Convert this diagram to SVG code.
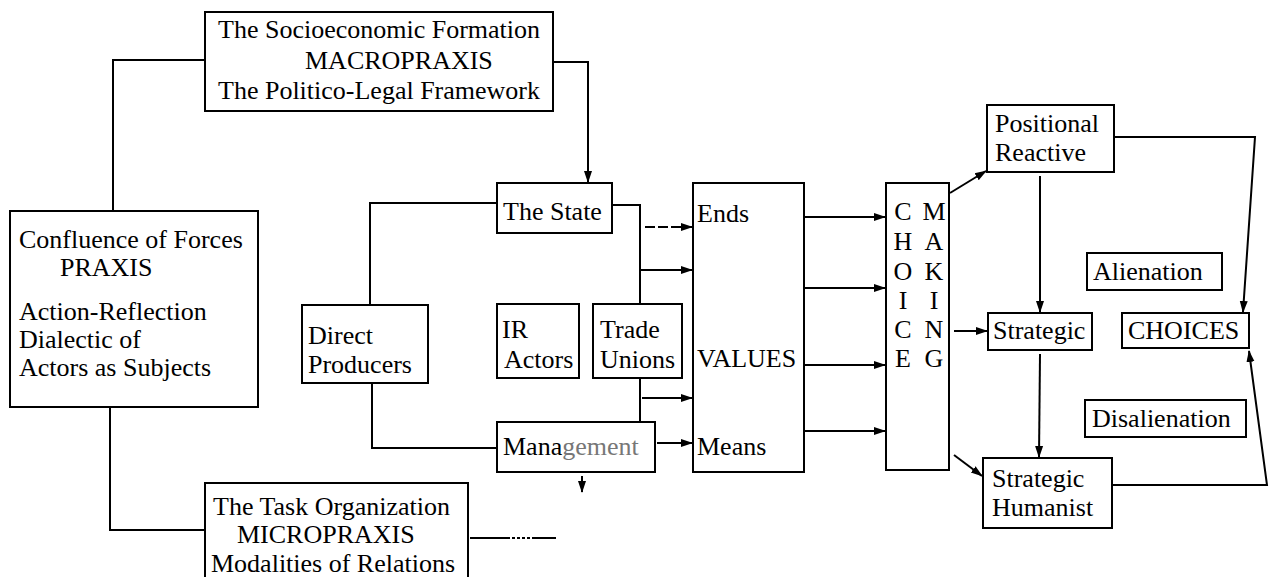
<svg xmlns="http://www.w3.org/2000/svg" width="1270" height="577" viewBox="0 0 1270 577">
<style>
.box{fill:#fff;stroke:#000;stroke-width:2}
.t{font-family:"Liberation Serif",serif;font-size:26px;fill:#000}
.c{fill:none;stroke:#000;stroke-width:2}
.m{text-anchor:middle}
</style>
<defs>
<marker id="ah" markerWidth="12" markerHeight="10" refX="11" refY="5" orient="auto" markerUnits="userSpaceOnUse">
<path d="M0,1 L12,5 L0,9 Z" fill="#000"/>
</marker>
</defs>
<rect width="1270" height="577" fill="#fff"/>
<g id="connectors">
<polyline class="c" points="205,60 113,60 113,211"/>
<polyline class="c" points="553,62 588,62 588,182" marker-end="url(#ah)"/>
<polyline class="c" points="110,407 110,530 205,530"/>
<polyline class="c" points="497,203 370,203 370,305"/>
<polyline class="c" points="372,383 372,448 497,448"/>
<polyline class="c" points="612,205 640,205 640,304"/>
<line class="c" x1="640" y1="378" x2="640" y2="422"/>
<line class="c" x1="645" y1="227" x2="692" y2="227" stroke-dasharray="10,3" marker-end="url(#ah)"/>
<line class="c" x1="640" y1="270" x2="692" y2="270" marker-end="url(#ah)"/>
<line class="c" x1="642" y1="398" x2="692" y2="398" marker-end="url(#ah)"/>
<line class="c" x1="657" y1="443" x2="692" y2="443" marker-end="url(#ah)"/>
<line class="c" x1="804" y1="217" x2="885" y2="217" marker-end="url(#ah)"/>
<line class="c" x1="804" y1="288" x2="885" y2="288" marker-end="url(#ah)"/>
<line class="c" x1="804" y1="365" x2="885" y2="365" marker-end="url(#ah)"/>
<line class="c" x1="804" y1="431" x2="885" y2="431" marker-end="url(#ah)"/>
<line class="c" x1="950" y1="193" x2="986" y2="171" marker-end="url(#ah)"/>
<line class="c" x1="954" y1="331" x2="987" y2="331" marker-end="url(#ah)"/>
<line class="c" x1="954" y1="455" x2="982" y2="476" marker-end="url(#ah)"/>
<line class="c" x1="1040" y1="176" x2="1040" y2="312" marker-end="url(#ah)"/>
<line class="c" x1="1040" y1="354" x2="1039" y2="457" marker-end="url(#ah)"/>
<polyline class="c" points="1114,137 1255,137 1243,312" marker-end="url(#ah)"/>
<polyline class="c" points="1112,485 1267,485 1249,351" marker-end="url(#ah)"/>
<line class="c" x1="470" y1="538" x2="556" y2="538" stroke-dasharray="40,2,3,2,3,2,3,2,3,2"/>
<line class="c" x1="582" y1="476" x2="582" y2="492" marker-end="url(#ah)"/>
</g>
<g id="macro">
<rect class="box" x="205" y="12" width="348" height="99"/>
<text class="t" x="218" y="38">The Socioeconomic Formation</text>
<text class="t" x="305" y="69">MACROPRAXIS</text>
<text class="t" x="218" y="99">The Politico-Legal Framework</text>
</g>
<g id="confluence">
<rect class="box" x="10" y="211" width="248" height="196"/>
<text class="t" x="19" y="248">Confluence of Forces</text>
<text class="t" x="60" y="276">PRAXIS</text>
<text class="t" x="19" y="320">Action-Reflection</text>
<text class="t" x="19" y="348">Dialectic of</text>
<text class="t" x="19" y="376">Actors as Subjects</text>
</g>
<g id="micro">
<rect class="box" x="205" y="483" width="263" height="100"/>
<text class="t" x="213" y="515">The Task Organization</text>
<text class="t" x="237" y="543">MICROPRAXIS</text>
<text class="t" x="211" y="572">Modalities of Relations</text>
</g>
<g id="state">
<rect class="box" x="497" y="183" width="115" height="50"/>
<text class="t" x="503" y="220">The State</text>
</g>
<g id="producers">
<rect class="box" x="302" y="305" width="126" height="78"/>
<text class="t" x="308" y="344">Direct</text>
<text class="t" x="308" y="373">Producers</text>
</g>
<g id="iractors">
<rect class="box" x="497" y="304" width="82" height="74"/>
<text class="t" x="502" y="338">IR</text>
<text class="t" x="504" y="368">Actors</text>
</g>
<g id="unions">
<rect class="box" x="593" y="304" width="89" height="74"/>
<text class="t" x="600" y="338">Trade</text>
<text class="t" x="600" y="368">Unions</text>
</g>
<g id="management">
<rect class="box" x="497" y="422" width="158" height="50"/>
<text class="t" x="503" y="455">Mana<tspan fill="#777">gement</tspan></text>
</g>
<g id="values">
<rect class="box" x="693" y="183" width="111" height="289"/>
<text class="t" x="697" y="222">Ends</text>
<text class="t" x="697" y="367">VALUES</text>
<text class="t" x="697" y="455">Means</text>
</g>
<g id="choicemaking">
<rect class="box" x="886" y="183" width="63" height="287"/>
<g class="t m">
<text x="903" y="220">C</text><text x="934" y="220">M</text>
<text x="903" y="250">H</text><text x="934" y="250">A</text>
<text x="903" y="280">O</text><text x="934" y="280">K</text>
<text x="903" y="309">I</text><text x="934" y="309">I</text>
<text x="903" y="338">C</text><text x="934" y="338">N</text>
<text x="903" y="367">E</text><text x="934" y="367">G</text>
</g>
</g>
<g id="positional">
<rect class="box" x="987" y="105" width="127" height="67"/>
<text class="t" x="995" y="132">Positional</text>
<text class="t" x="995" y="161">Reactive</text>
</g>
<g id="strategic">
<rect class="box" x="988" y="313" width="104" height="37"/>
<text class="t" x="993" y="339">Strategic</text>
</g>
<g id="humanist">
<rect class="box" x="983" y="458" width="129" height="70"/>
<text class="t" x="992" y="487">Strategic</text>
<text class="t" x="992" y="516">Humanist</text>
</g>
<g id="alienation">
<rect class="box" x="1087" y="253" width="135" height="37"/>
<text class="t" x="1093" y="280">Alienation</text>
</g>
<g id="choices">
<rect class="box" x="1122" y="313" width="127" height="35"/>
<text class="t" x="1128" y="339">CHOICES</text>
</g>
<g id="disalienation">
<rect class="box" x="1085" y="400" width="161" height="37"/>
<text class="t" x="1092" y="427">Disalienation</text>
</g>
</svg>
